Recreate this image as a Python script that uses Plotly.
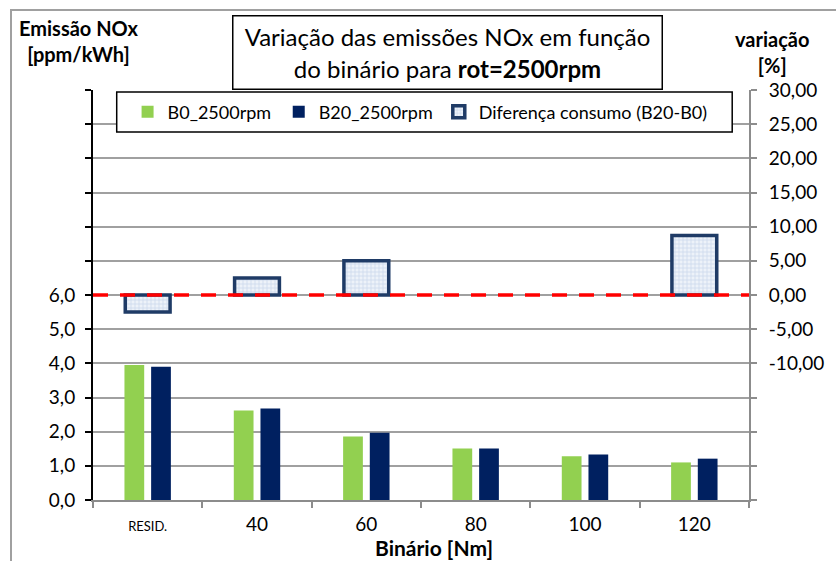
import plotly.graph_objects as go

categories = ["RESID.", "40", "60", "80", "100", "120"]
b0_2500 = [3.95, 2.62, 1.86, 1.51, 1.28, 1.10]
b20_2500 = [3.90, 2.68, 1.97, 1.51, 1.33, 1.21]
diff_pct = [-2.5, 2.5, 5.0, None, None, 8.7]

left_ticks = list(range(0, 13))
left_labels = [f"{v},0" if v <= 6 else "" for v in left_ticks]
right_ticks = list(range(-30, 31, 5))
right_labels = [(f"{v},00" if v >= -10 else "") for v in right_ticks]
x_labels = ["<span style='font-size:13px'>RESID.</span>", "40", "60", "80", "100", "120"]

FONT = "Lato, 'Open Sans', sans-serif"
W, H = 836, 561
L, R, T, B = 93, 757, 90, 500
pw, ph = R - L, B - T

def px(x):
    return (x - L) / pw

def py(y):
    return (B - y) / ph

fig = go.Figure()
fig.add_trace(go.Bar(x=categories, y=b0_2500, name="B0_2500rpm", legend="legend",
                     marker=dict(color="#92D050", line=dict(width=0))))
fig.add_trace(go.Bar(x=categories, y=b20_2500, name="B20_2500rpm", legend="legend2",
                     marker=dict(color="#002060", line=dict(width=0))))
fig.add_trace(go.Bar(x=categories, y=diff_pct, name="Diferença consumo (B20-B0)",
                     legend="legend3", yaxis="y2", width=0.41,
                     marker=dict(color="#E4ECF6",
                                 line=dict(color="#1F3B66", width=3.5),
                                 pattern=dict(shape="+", size=4, solidity=0.3,
                                              fgcolor="#9FB6DA", bgcolor="#EDF2F9",
                                              fillmode="overlay"))))

leg_common = dict(orientation="h", xanchor="left", y=py(112), yanchor="middle",
                  bgcolor="rgba(0,0,0,0)", borderwidth=0, font=dict(size=18), itemwidth=30)

fig.update_layout(
    width=W, height=H,
    margin=dict(l=L, r=W - R, t=T, b=H - B, pad=0),
    paper_bgcolor="white", plot_bgcolor="white",
    font=dict(family=FONT, size=19, color="#000000"),
    barmode="group", bargap=0.512, bargroupgap=0.26,
    showlegend=True,
    legend=dict(x=px(128), **leg_common),
    legend2=dict(x=px(281), **leg_common),
    legend3=dict(x=px(443), **leg_common),
    xaxis=dict(type="category", tickmode="array", tickvals=categories, ticktext=x_labels,
               showline=True, linecolor="#8C8C8C", linewidth=2,
               ticks="outside", ticklen=6, tickwidth=2, tickcolor="#8C8C8C",
               tickson="boundaries", showgrid=False, ticklabelstandoff=6,
               range=[-0.5, 5.5]),
    yaxis=dict(range=[0, 12], tickmode="array", tickvals=left_ticks, ticktext=left_labels,
               showline=True, linecolor="#000000", linewidth=2,
               ticks="outside", ticklen=6, tickwidth=2, tickcolor="#000000",
               showgrid=True, gridcolor="#A0A0A0", gridwidth=2, zeroline=False,
               ticklabelstandoff=6),
    yaxis2=dict(range=[-30, 30], overlaying="y", side="right",
                tickmode="array", tickvals=right_ticks, ticktext=right_labels,
                showline=True, linecolor="#8C8C8C", linewidth=2,
                ticks="outside", ticklen=6, tickwidth=2, tickcolor="#8C8C8C",
                showgrid=False, zeroline=False, ticklabelstandoff=8),
)

shapes = [
    dict(type="rect", xref="paper", yref="paper", x0=px(10), x1=px(860), y0=py(600), y1=py(10),
         line=dict(color="#A0A0A0", width=2), fillcolor="rgba(0,0,0,0)", layer="below"),
    dict(type="rect", xref="paper", yref="paper", x0=px(117), x1=px(740), y0=py(132), y1=py(92),
         line=dict(color="#000000", width=1.5), fillcolor="white", layer="above"),
    dict(type="line", xref="paper", yref="y2", x0=0, x1=1, y0=0, y1=0,
         line=dict(color="#FF0000", width=3.5, dash="15px,12px"), layer="above"),
]
fig.update_layout(shapes=shapes)

annotations = [
    dict(text="Variação das emissões NOx em função<br>do binário para <b>rot=2500rpm</b>",
         xref="paper", yref="paper", x=px(452), y=py(90), xanchor="center", yanchor="bottom",
         showarrow=False, font=dict(size=24), align="center",
         bordercolor="#000000", borderwidth=1.5, borderpad=0, bgcolor="white",
         width=428, height=72),
    dict(text="<b>Emissão NOx<br>[ppm/kWh]</b>", xref="paper", yref="paper",
         x=px(78), y=py(41), xanchor="center", yanchor="middle", showarrow=False,
         font=dict(size=20), align="center"),
    dict(text="<b>variação<br>[%]</b>", xref="paper", yref="paper",
         x=px(780), y=py(52), xanchor="center", yanchor="middle", showarrow=False,
         font=dict(size=20), align="center"),
    dict(text="<b>Binário [Nm]</b>", xref="paper", yref="paper",
         x=px(438), y=py(547), xanchor="center", yanchor="middle", showarrow=False,
         font=dict(size=21)),
]
fig.update_layout(annotations=annotations)

fig.write_html("out.html", config={"displayModeBar": False},
               post_script="document.body.style.margin='0';document.body.style.overflow='hidden';")
